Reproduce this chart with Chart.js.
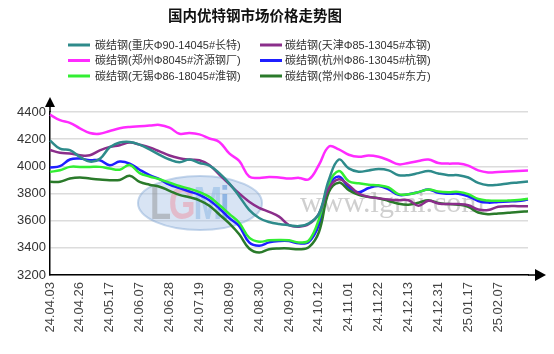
<!DOCTYPE html>
<html>
<head>
<meta charset="utf-8">
<script src="https://cdn.jsdelivr.net/npm/chart.js@4.4.1/dist/chart.umd.min.js"></script>
<style>
  html, body { margin: 0; padding: 0; background: #fff; }
  #wrap { width: 554px; height: 354px; }
</style>
</head>
<body>
<div id="wrap"><canvas id="priceChart" width="554" height="354"></canvas></div>
<script>
// 日期（每周一个点，每3个点显示一个标签）
const dates = ['24.04.03','24.04.10','24.04.17','24.04.26','24.05.03','24.05.10','24.05.17','24.05.24','24.05.31',
  '24.06.07','24.06.14','24.06.21','24.06.28','24.07.05','24.07.12','24.07.19','24.07.26','24.08.02',
  '24.08.09','24.08.16','24.08.23','24.08.30','24.09.06','24.09.13','24.09.20','24.09.27','24.10.08',
  '24.10.12','24.10.18','24.10.25','24.11.01','24.11.08','24.11.15','24.11.22','24.11.29','24.12.06',
  '24.12.13','24.12.20','24.12.27','24.12.31','25.01.03','25.01.10','25.01.17','25.01.24','25.01.27',
  '25.02.07','25.02.14','25.02.21','25.02.28'];

const chongqing = [4190,4130,4120,4070,4035,4055,4140,4175,4180,4160,4125,4085,4050,4030,4050,4025,4005,3950,
  3875,3780,3680,3620,3590,3575,3567,3560,3580,3650,3900,4050,3985,3960,3970,3980,3970,3935,3935,3950,
  3965,3947,3935,3935,3918,3878,3861,3865,3874,3881,3888];
const tianjin = [4120,4100,4095,4082,4082,4118,4143,4155,4175,4160,4140,4110,4080,4060,4050,4045,4010,3940,
  3870,3800,3740,3695,3665,3630,3567,3555,3575,3650,3840,3905,3861,3800,3775,3765,3756,3751,3750,3710,
  3746,3727,3722,3722,3714,3682,3678,3702,3707,3707,3707];
const zhengzhou = [4380,4340,4320,4280,4245,4240,4260,4280,4290,4295,4300,4305,4285,4240,4245,4235,4205,4180,
  4095,4040,3925,3915,3922,3918,3910,3915,3905,4010,4145,4125,4085,4070,4080,4070,4045,4015,4025,4040,
  4050,4025,4020,4020,4005,3970,3955,3958,3962,3966,3970];
const hangzhou = [3991,4001,4050,4057,4045,4045,4008,4035,4020,3975,3935,3905,3865,3840,3815,3790,3750,3690,
  3620,3560,3440,3415,3440,3450,3450,3433,3445,3570,3850,3925,3845,3810,3840,3855,3830,3790,3795,3810,
  3830,3805,3798,3798,3780,3745,3733,3738,3742,3745,3755];
const wuxi = [3959,3971,3996,3996,3996,3996,3984,3975,4010,3950,3925,3905,3880,3855,3835,3810,3775,3715,
  3650,3585,3475,3445,3455,3458,3455,3440,3455,3610,3870,3965,3890,3875,3865,3860,3845,3795,3795,3810,
  3830,3815,3810,3812,3795,3760,3748,3746,3748,3752,3761];
const changzhou = [3886,3886,3910,3918,3910,3903,3898,3900,3930,3885,3865,3850,3820,3790,3772,3750,3710,3645,
  3580,3500,3395,3365,3390,3396,3396,3389,3405,3515,3810,3880,3825,3790,3775,3765,3745,3725,3718,3732,
  3751,3730,3722,3718,3702,3660,3648,3653,3658,3663,3670];

const seriesNames = ['碳结钢(重庆Φ90-14045#长特)', '碳结钢(天津Φ85-13045#本钢)', '碳结钢(郑州Φ8045#济源钢厂)',
  '碳结钢(杭州Φ86-13045#杭钢)', '碳结钢(无锡Φ86-18045#淮钢)', '碳结钢(常州Φ86-13045#东方)'];
const seriesColors = ['#2e8b8b', '#8b2e8b', '#ff2bff', '#1f1fff', '#33ee33', '#2a7a2a'];
const seriesData = [chongqing, tianjin, zhengzhou, hangzhou, wuxi, changzhou];

const yTicks = [3200, 3400, 3600, 3800, 4000, 4200, 4400];

const latinFont = '"Liberation Sans", Arial, "Noto Sans CJK SC", sans-serif';

// 标题、图例、坐标箭头和水印
const decorPlugin = {
  id: 'decor',
  beforeDatasetsDraw(chart) {
    const ctx = chart.ctx;
    ctx.save();
    ctx.globalAlpha = 0.45;
    ctx.beginPath();
    ctx.ellipse(200, 203, 62, 27, 0, 0, Math.PI * 2);
    ctx.fillStyle = '#a9c3e6';
    ctx.fill();
    ctx.lineWidth = 2;
    ctx.strokeStyle = '#7fa3d3';
    ctx.stroke();
    // LGMi 字样（横向压缩）
    ctx.save();
    ctx.translate(150, 219);
    ctx.scale(0.75, 1);
    ctx.font = 'bold 46px ' + latinFont;
    ctx.textBaseline = 'alphabetic';
    const letters = [['L', '#8a8a8a'], ['G', '#f08a9a'], ['M', '#7fb0e0'], ['i', '#3a7fd0']];
    let lx = 0;
    letters.forEach(([ch, col]) => {
      ctx.fillStyle = col;
      ctx.fillText(ch, lx, 0);
      lx += ctx.measureText(ch).width - 3;
    });
    ctx.restore();
    ctx.globalAlpha = 0.4;
    ctx.fillStyle = '#888';
    ctx.font = '30px "Liberation Serif", "DejaVu Serif", serif';
    ctx.fillText('www.lgmi.com', 300, 212);
    ctx.restore();
  },
  afterDraw(chart) {
    const ctx = chart.ctx;
    const area = chart.chartArea;
    ctx.save();

    // 标题
    ctx.fillStyle = '#111';
    ctx.font = 'bold 14.5px "Noto Sans CJK SC", sans-serif';
    ctx.textAlign = 'center';
    ctx.textBaseline = 'middle';
    ctx.fillText('国内优特钢市场价格走势图', 255, 15);

    // 图例（两列三行）
    ctx.textAlign = 'left';
    ctx.font = '11px ' + latinFont;
    const colLine = [68, 260];
    const colText = [95, 285];
    const rowY = [45, 60.5, 76];
    chart.data.datasets.forEach((ds, i) => {
      const c = i % 2, r = Math.floor(i / 2);
      ctx.strokeStyle = ds.borderColor;
      ctx.lineWidth = 3;
      ctx.beginPath();
      ctx.moveTo(colLine[c], rowY[r]);
      ctx.lineTo(colLine[c] + 22, rowY[r]);
      ctx.stroke();
      ctx.fillStyle = '#333';
      ctx.fillText(ds.label, colText[c], rowY[r] + 0.5);
    });

    // 坐标轴箭头
    ctx.strokeStyle = '#000';
    ctx.fillStyle = '#000';
    ctx.lineWidth = 1.5;
    ctx.beginPath();
    ctx.moveTo(area.left, area.top);
    ctx.lineTo(area.left, 104);
    ctx.moveTo(area.right, area.bottom);
    ctx.lineTo(538, area.bottom);
    ctx.stroke();
    ctx.beginPath();
    ctx.moveTo(area.left, 97);
    ctx.lineTo(area.left - 5, 107);
    ctx.lineTo(area.left + 5, 107);
    ctx.closePath();
    ctx.fill();
    ctx.beginPath();
    ctx.moveTo(546, area.bottom);
    ctx.lineTo(535, area.bottom - 6);
    ctx.lineTo(535, area.bottom + 6);
    ctx.closePath();
    ctx.fill();
    ctx.restore();
  }
};

const ctx = document.getElementById('priceChart').getContext('2d');
const priceChart = new Chart(ctx, {
  type: 'line',
  data: {
    labels: dates,
    datasets: seriesNames.map((name, i) => ({
      label: name,
      data: seriesData[i],
      borderColor: seriesColors[i],
      backgroundColor: seriesColors[i],
      borderWidth: 2.5,
      pointRadius: 0,
      tension: 0.4,
      fill: false,
      order: name.includes('杭州') ? 1 : 0
    }))
  },
  options: {
    responsive: false,
    animation: false,
    devicePixelRatio: 1,
    layout: { padding: { top: 112, right: 26, left: 0, bottom: 0 } },
    plugins: {
      legend: { display: false },
      title: { display: false },
      tooltip: { enabled: false }
    },
    scales: {
      x: {
        type: 'category',
        offset: false,
        grid: { display: false, drawTicks: false },
        border: { color: '#000', width: 1.5 },
        ticks: {
          autoSkip: false,
          maxRotation: 90,
          minRotation: 90,
          padding: 7,
          color: '#444',
          font: { size: 13, family: latinFont },
          callback: (v, i) => (i % 3 === 0 && i < dates.length - 1 ? dates[i] : '')
        },
        afterFit: (scale) => { scale.height = 79; }
      },
      y: {
        min: yTicks[0],
        max: yTicks[yTicks.length - 1],
        grid: { color: '#dcdcdc', lineWidth: 1.5, drawTicks: false },
        border: { color: '#000', width: 1.5 },
        afterBuildTicks: (scale) => { scale.ticks = yTicks.map(v => ({ value: v })); },
        ticks: {
          padding: 4,
          color: '#333',
          font: { size: 13, family: latinFont },
          callback: (v) => String(v)
        },
        afterFit: (scale) => { scale.width = 50; }
      }
    }
  },
  plugins: [decorPlugin]
});
</script>
</body>
</html>
